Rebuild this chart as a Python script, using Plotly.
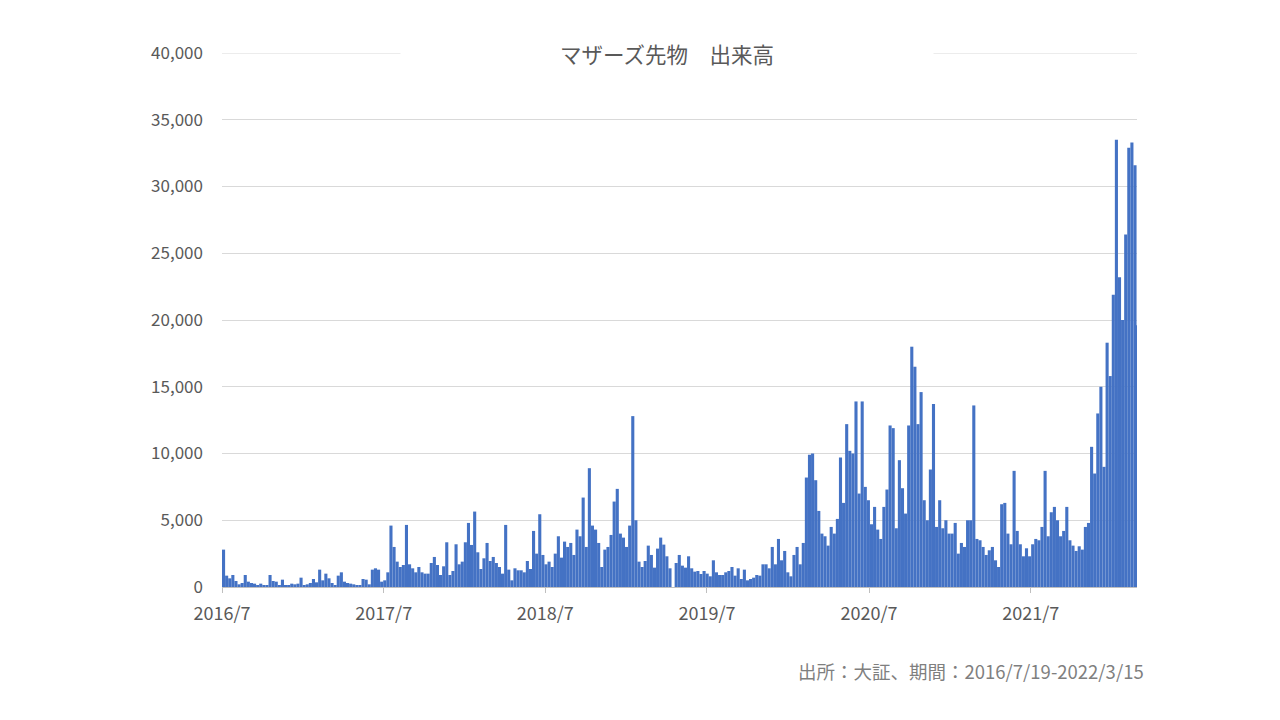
import pandas as pd
import plotly.graph_objects as go

# Weekly volume (contracts); weeks start 2016-07-19
start_date = "2016-07-19"
end_date = "2022-03-15"

vol_2016 = [2800, 850, 650, 900, 450, 200, 300, 900, 400, 300, 250, 150,
            250, 80, 100, 900, 450, 400, 100, 550, 150, 100, 250, 200]
vol_2017 = [250, 700, 150, 200, 300, 600, 350, 1300, 500, 1000, 650, 300,
            100, 850, 1100, 400, 300, 250, 200, 150, 150, 600, 550, 200,
            1300, 1400, 1300, 400, 500, 1100, 4600, 3000, 1900, 1500, 1650, 4650,
            1700, 1400, 1100, 1500, 1100, 1000, 1000, 1800, 2250, 1650, 900, 1550,
            3350, 900, 1200, 3200]
vol_2018 = [1700, 1900, 3350, 4800, 3150, 5650, 2600, 1350, 2150, 3300, 1950, 2250,
            1800, 1500, 1000, 4650, 1300, 500, 1400, 1250, 1250, 1100, 1950, 1350,
            4200, 2500, 5450, 2400, 1700, 1900, 1500, 2500, 3800, 2200, 3400, 3000,
            3300, 2400, 4300, 3800, 6700, 3000, 8900, 4600, 4300, 3300, 1500, 2800,
            3000, 3900, 6400, 7350]
vol_2019 = [4000, 3700, 3000, 4600, 12800, 5000, 1900, 1500, 1950, 3100, 2400, 1450,
            2875, 3700, 3175, 2300, 1400, 0, 1800, 2400, 1600, 1450, 2300, 1400,
            1150, 1200, 975, 1200, 1000, 800, 2000, 1100, 900, 900, 1100, 1200,
            1500, 850, 1400, 600, 1300, 500, 600, 700, 900, 850, 1700, 1700,
            1400, 3000, 1700, 3600]
vol_2020 = [2000, 2700, 1100, 800, 2400, 3000, 1700, 3300, 8200, 9900, 10000, 8000,
            5700, 4000, 3800, 3100, 4500, 4000, 5100, 9700, 6300, 12200, 10200, 10000,
            13900, 7000, 13900, 7500, 6500, 4700, 6000, 4300, 3600, 6000, 7300, 12100,
            11900, 4400, 9500, 7400, 5500, 12100, 18000, 16500, 12200, 14600, 6500, 5000,
            8800, 13700, 4500, 6500]
vol_2021 = [4400, 5000, 4000, 4000, 4800, 2500, 3300, 3000, 5000, 5000, 13600, 3600,
            3500, 3000, 2400, 2750, 3000, 2000, 1500, 6200, 6300, 4000, 3200, 8700,
            4200, 3200, 2300, 2900, 2300, 3200, 3600, 3500, 4500, 8700, 3800, 5600,
            6000, 5000, 3800, 4200, 6000, 3500, 3100, 2700, 3050, 2800, 4500, 4800,
            10500, 8500, 13000, 15000]
vol_2022 = [9000, 18300, 15800, 21900, 33500, 23200, 20000, 26400, 32900, 33300, 31600, 19600]

y_ticks = [0, 5000, 10000, 15000, 20000, 25000, 30000, 35000, 40000]
tick_dates = ["2016-07-19", "2017-07-19", "2018-07-19", "2019-07-19", "2020-07-19", "2021-07-19"]
tick_labels = ["2016/7", "2017/7", "2018/7", "2019/7", "2020/7", "2021/7"]

title_text = "マザーズ先物　出来高"
source_text = "出所：大証、期間：2016/7/19-2022/3/15"

volumes = vol_2016 + vol_2017 + vol_2018 + vol_2019 + vol_2020 + vol_2021 + vol_2022
weeks = pd.date_range(start_date, periods=len(volumes), freq="7D")
day_ms = 86400000
end_ts = pd.Timestamp(end_date) + pd.Timedelta(days=1)
widths = [min(7, (end_ts - w).days) * day_ms for w in weeks]

font_family = "Noto Sans CJK JP"
txt_color = "#595959"
grid_color = "#D9D9D9"

fig = go.Figure()
fig.add_trace(go.Bar(
    x=weeks, y=volumes, width=widths, offset=0,
    marker=dict(color="#4472C4", line=dict(width=0)),
    hoverinfo="x+y",
))

# margins compensate for the page's default 8px body margin
fig.update_layout(
    width=1280, height=720,
    paper_bgcolor="white", plot_bgcolor="white",
    margin=dict(l=214, r=151, t=45, b=141, autoexpand=False),
    showlegend=False,
    font=dict(family=font_family, color=txt_color, size=17),
)
fig.update_xaxes(
    type="date",
    range=[start_date, end_ts.strftime("%Y-%m-%d")],
    tickvals=tick_dates, ticktext=tick_labels,
    showgrid=False, showline=True, linecolor="#BFBFBF", linewidth=1,
    ticks="outside", ticklen=5, tickcolor="#BFBFBF",
    ticklabelstandoff=5,
    tickfont=dict(size=18, color=txt_color),
)
fig.update_yaxes(
    range=[0, y_ticks[-1]], tickvals=y_ticks,
    tickformat=",",
    showgrid=True, gridcolor=grid_color, gridwidth=1,
    zeroline=False, showline=False, ticks="",
    ticklabelstandoff=18,
    tickfont=dict(size=17, color=txt_color),
)

# top gridline (plotly skips the gridline lying on the plot edge)
fig.add_shape(
    type="line", xref="paper", yref="y", x0=0, x1=1, y0=y_ticks[-1], y1=y_ticks[-1],
    line=dict(color=grid_color, width=1), layer="below",
)

fig.add_annotation(
    text=title_text, xref="paper", yref="paper", x=0.486, y=1.0,
    xanchor="center", yanchor="middle", showarrow=False,
    font=dict(size=21.5, color=txt_color, family=font_family),
    bgcolor="white", width=530, height=30,
)
fig.add_annotation(
    text=source_text, xref="paper", yref="paper", x=1.0099, y=-0.157,
    xanchor="right", yanchor="middle", showarrow=False,
    font=dict(size=18.5, color="#7F7F7F", family=font_family),
)

fig.write_html("out.html")
